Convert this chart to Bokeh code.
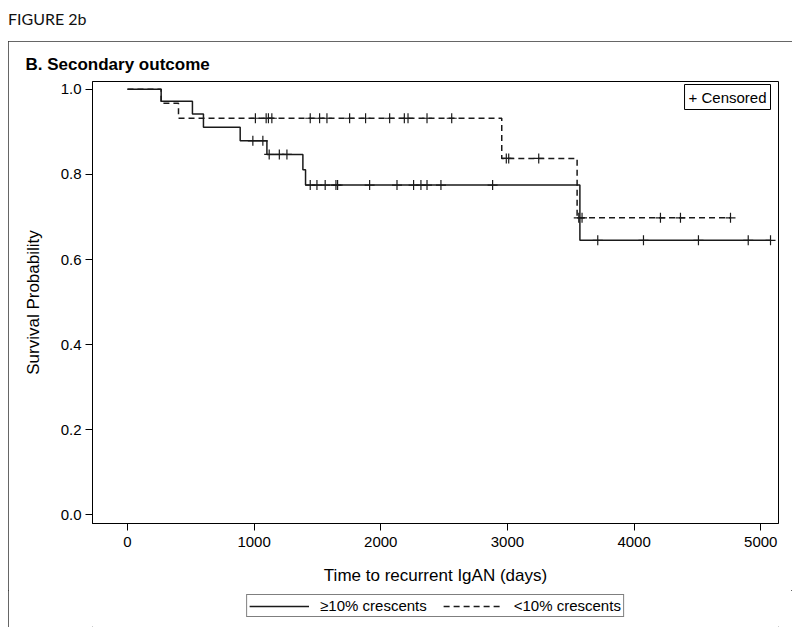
import numpy as np
from bokeh.plotting import figure
from bokeh.models import (Range1d, Legend, LegendItem, FixedTicker, Div,
                          NumeralTickFormatter, Label)
from bokeh.layouts import column
from bokeh.embed import file_html
from bokeh.resources import INLINE

# ---- data ----
# >=10% crescents : event times (days) and survival level from that time on
hi_times = [0, 266, 513, 600, 890, 1101, 1385, 1406, 3572]
hi_surv = [1.0, 0.972, 0.942, 0.911, 0.879, 0.847, 0.811, 0.775, 0.645]
hi_censor = [990, 1069, 1119, 1199, 1259, 1443, 1496, 1561, 1646, 1659, 1912,
             2128, 2259, 2317, 2365, 2475, 2883, 3713, 4074, 4508, 4901, 5077]

# <10% crescents
lo_times = [0, 266, 403, 2955, 3550]
lo_surv = [1.0, 0.967, 0.932, 0.8375, 0.698]
lo_censor = [1010, 1095, 1113, 1140, 1443, 1517, 1575, 1754, 1880, 2070, 2186,
             2215, 2365, 2560, 2991, 3010, 3247, 3563, 3589, 4208, 4366, 4761]

x_ticks = [0, 1000, 2000, 3000, 4000, 5000]
y_ticks = [0.0, 0.2, 0.4, 0.6, 0.8, 1.0]

series_labels = ["\u226510% crescents", "<10% crescents"]

FONT = "Liberation Sans"
INK = "#1a1a1a"
DASH = "6 4"


def step_xy(times, surv, censor):
    end = max(max(censor), times[-1])
    return list(times) + [end], list(surv) + [surv[-1]]


def censor_y(times, surv, censor):
    idx = np.searchsorted(np.array(times), np.array(censor), side="right") - 1
    return [surv[i] for i in idx]


hx, hy = step_xy(hi_times, hi_surv, hi_censor)
lx, ly = step_xy(lo_times, lo_surv, lo_censor)

p = figure(width=784, height=549, output_backend="svg", toolbar_location=None,
           x_range=Range1d(-276, 5140), y_range=Range1d(-0.0205, 1.0184),
           min_border_left=84, min_border_right=14, min_border_top=40,
           min_border_bottom=67)

p.title.text = "B. Secondary outcome"
p.title.text_font = FONT
p.title.text_font_size = "17px"
p.title.text_font_style = "bold"
p.title.text_color = "#000"
p.title.align = "left"
p.title.offset = -67
p.title.standoff = 15

p.xgrid.visible = False
p.ygrid.visible = False
p.outline_line_color = "#000"
p.outline_line_width = 1
p.background_fill_color = "white"
p.border_fill_color = "white"

for ax in (p.xaxis[0], p.yaxis[0]):
    ax.major_label_text_font = FONT
    ax.major_label_text_font_size = "15px"
    ax.major_label_text_color = "#000"
    ax.axis_label_text_font = FONT
    ax.axis_label_text_font_size = "17px"
    ax.axis_label_text_font_style = "normal"
    ax.axis_label_text_color = "#000"
    ax.minor_tick_line_color = None
    ax.major_tick_in = 0
    ax.major_tick_out = 7
    ax.major_tick_line_color = "#000"
    ax.axis_line_color = "#000"

p.xaxis.major_label_standoff = 6
p.yaxis.major_label_standoff = 4
p.xaxis.ticker = FixedTicker(ticks=x_ticks)
p.yaxis.ticker = FixedTicker(ticks=y_ticks)
p.yaxis.formatter = NumeralTickFormatter(format="0.0")
p.xaxis.axis_label = "Time to recurrent IgAN (days)"
p.yaxis.axis_label = "Survival Probability"
p.xaxis.axis_label_standoff = 16
p.yaxis.axis_label_standoff = 15

p.step(hx, hy, mode="after", line_color=INK, line_width=1.5)
p.step(lx, ly, mode="after", line_color=INK, line_width=1.5, line_dash=DASH)

p.scatter(hi_censor, censor_y(hi_times, hi_surv, hi_censor), marker="cross",
          size=10, line_color=INK, line_width=1.2)
p.scatter(lo_censor, censor_y(lo_times, lo_surv, lo_censor), marker="cross",
          size=10, line_color=INK, line_width=1.2)

# "+ Censored" key box in the top right corner of the frame
cen = Label(x=p.x_range.end, y=p.y_range.end, x_offset=-8, y_offset=-3,
            text="+ Censored", text_align="right", text_baseline="top",
            text_font=FONT, text_font_size="15px", text_color="#000",
            border_line_color="#000", border_line_width=1,
            background_fill_color="white", padding=4)
p.add_layout(cen)

# ---- legend strip below the plot ----
# same series drawn in a strip whose view range shows none of them,
# so that only the legend keys are visible
lf = figure(width=784, height=37, output_backend="svg", toolbar_location=None,
            x_range=Range1d(-3, -2), y_range=Range1d(-3, -2),
            min_border_left=84, min_border_right=14, min_border_top=0,
            min_border_bottom=0)
lf.axis.visible = False
lf.grid.visible = False
lf.outline_line_color = None
lf.border_fill_color = "white"
k_hi = lf.step(hx, hy, mode="after", line_color=INK, line_width=1.5)
k_lo = lf.step(lx, ly, mode="after", line_color=INK, line_width=1.5, line_dash=DASH)

leg = Legend(items=[LegendItem(label=series_labels[0], renderers=[k_hi]),
                    LegendItem(label=series_labels[1], renderers=[k_lo])],
             orientation="horizontal", location="top_center")
leg.label_text_font = FONT
leg.label_text_font_size = "15px"
leg.label_text_color = "#000"
leg.glyph_width = 60
leg.glyph_height = 14
leg.label_height = 14
leg.label_standoff = 11
leg.spacing = 16
leg.padding = 2
leg.margin = 4
leg.border_line_color = "#000"
leg.border_line_width = 1
leg.background_fill_color = "white"
lf.add_layout(leg, "center")

boxed = column(p, lf, spacing=0,
               styles={"outline": "1.5px solid #333", "outline-offset": "-1px"})
boxed.margin = (0, 0, 0, 8)

header = Div(text="FIGURE 2b", width=784, height=33,
             styles={"font-family": "Lato", "font-size": "16px", "color": "#111"})
header.margin = (8, 0, 0, 8)

layout = column(header, boxed, spacing=0)

open("out.html", "w").write(file_html(layout, INLINE))
